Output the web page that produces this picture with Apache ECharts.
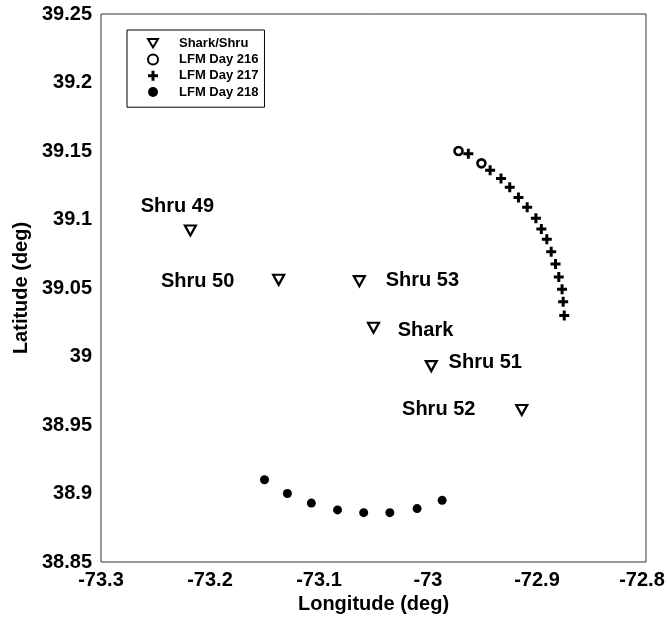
<!DOCTYPE html>
<html>
<head>
<meta charset="utf-8">
<script src="https://cdn.jsdelivr.net/npm/echarts@6/dist/echarts.min.js"></script>
<style>
  html, body { margin: 0; padding: 0; background: #fff; }
</style>
</head>
<body>
<div id="main" style="width: 668px; height: 618px;"></div>
<script type="text/javascript">
// sites (Shark / Shru moorings)
var siteNames = ['Shru 49', 'Shru 50', 'Shru 53', 'Shark', 'Shru 51', 'Shru 52'];
var siteLon = [-73.218, -73.137, -73.063, -73.050, -72.997, -72.914];
var siteLat = [39.092, 39.056, 39.055, 39.021, 38.993, 38.961];

// LFM positions
var day216Lon = [-72.972, -72.951];
var day216Lat = [39.150, 39.141];

var day217Lon = [-72.963, -72.943, -72.933, -72.925, -72.917, -72.909, -72.901, -72.896,
                 -72.891, -72.887, -72.883, -72.880, -72.877, -72.876, -72.875];
var day217Lat = [39.148, 39.136, 39.130, 39.1235, 39.116, 39.109, 39.101, 39.093,
                 39.0855, 39.0765, 39.0675, 39.058, 39.049, 39.040, 39.030];

var day218Lon = [-73.150, -73.129, -73.107, -73.083, -73.059, -73.035, -73.010, -72.987];
var day218Lat = [38.910, 38.900, 38.893, 38.888, 38.886, 38.886, 38.889, 38.895];

var seriesNames = ['Shark/Shru', 'LFM Day 216', 'LFM Day 217', 'LFM Day 218'];
var xTicks = [-73.3, -73.2, -73.1, -73, -72.9, -72.8];
var yTicks = [38.85, 38.9, 38.95, 39, 39.05, 39.1, 39.15, 39.2, 39.25];

function pairs(xs, ys) {
    return xs.map(function (x, i) { return [x, ys[i]]; });
}

var font = 'Liberation Sans';
// where each site name sits relative to its marker
var labelShift = [[-13, -24], [-81, 2], [63, -1], [52, 3], [54, -4], [-83, 0]];

var siteData = siteNames.map(function (n, i) {
    return {
        name: n,
        value: [siteLon[i], siteLat[i]],
        label: { offset: labelShift[i] }
    };
});

var triDown = 'path://M0,0 L10,0 L5,8.5 Z';
var plus = 'path://M3.5,0 H6.5 V3.5 H10 V6.5 H6.5 V10 H3.5 V6.5 H0 V3.5 H3.5 Z';

var myChart = echarts.init(document.getElementById('main'));

var tickFont = { fontFamily: font, fontWeight: 'bold', fontSize: 20, color: '#000' };

var option = {
    animation: false,
    backgroundColor: '#fff',
    grid: {
        left: 101, top: 14, right: 22, bottom: 56,
        show: true, borderColor: '#333', borderWidth: 1,
        containLabel: false,
        outerBoundsMode: 'none'
    },
    legend: {
        data: seriesNames,
        orient: 'vertical',
        left: 127, top: 30,
        borderColor: '#000', borderWidth: 1,
        padding: [5, 6, 7, 20],
        itemWidth: 10, itemHeight: 10, itemGap: 0,
        textStyle: { fontFamily: font, fontWeight: 'bold', fontSize: 13, color: '#000',
                     lineHeight: 16.3, padding: [0, 0, 0, 16] }
    },
    xAxis: {
        type: 'value',
        min: xTicks[0], max: xTicks[xTicks.length - 1], interval: 0.1,
        name: 'Longitude (deg)', nameLocation: 'middle', nameGap: 31,
        nameTextStyle: { fontFamily: font, fontWeight: 'bold', fontSize: 20, color: '#000' },
        axisLine: { show: false }, axisTick: { show: false }, splitLine: { show: false },
        axisLabel: {
            margin: 8, fontFamily: font, fontWeight: 'bold', fontSize: 20, color: '#000',
            formatter: function (v) {
                var s = String(+v.toFixed(2));
                // last label is nudged left so it stays inside the page
                return v > -72.85 ? '{last|' + s + '}' : s;
            },
            rich: {
                last: Object.assign({ padding: [0, 8, 0, 0] }, tickFont)
            }
        }
    },
    yAxis: {
        type: 'value',
        min: yTicks[0], max: yTicks[yTicks.length - 1], interval: 0.05,
        name: 'Latitude (deg)', nameLocation: 'middle', nameGap: 67,
        nameTextStyle: { fontFamily: font, fontWeight: 'bold', fontSize: 20, color: '#000' },
        axisLine: { show: false }, axisTick: { show: false }, splitLine: { show: false },
        axisLabel: {
            margin: 9, fontFamily: font, fontWeight: 'bold', fontSize: 20, color: '#000',
            formatter: function (v) { return String(+v.toFixed(2)); }
        }
    },
    series: [
        {
            name: seriesNames[0], type: 'scatter',
            symbol: triDown, symbolSize: [11, 10],
            itemStyle: { color: '#fff', borderColor: '#000', borderWidth: 2.2, opacity: 1 },
            label: {
                show: true, position: 'inside',
                formatter: function (p) { return p.name; },
                fontFamily: font, fontWeight: 'bold', fontSize: 20, color: '#000',
                textBorderWidth: 0
            },
            data: siteData
        },
        {
            name: seriesNames[1], type: 'scatter',
            symbol: 'circle', symbolSize: 8,
            itemStyle: { color: '#fff', borderColor: '#000', borderWidth: 2.6, opacity: 1 },
            data: pairs(day216Lon, day216Lat)
        },
        {
            name: seriesNames[2], type: 'scatter',
            symbol: plus, symbolSize: 10,
            itemStyle: { color: '#000', opacity: 1 },
            data: pairs(day217Lon, day217Lat)
        },
        {
            name: seriesNames[3], type: 'scatter',
            symbol: 'circle', symbolSize: 9,
            itemStyle: { color: '#000', opacity: 1 },
            data: pairs(day218Lon, day218Lat)
        }
    ]
};

myChart.setOption(option);
</script>
</body>
</html>
